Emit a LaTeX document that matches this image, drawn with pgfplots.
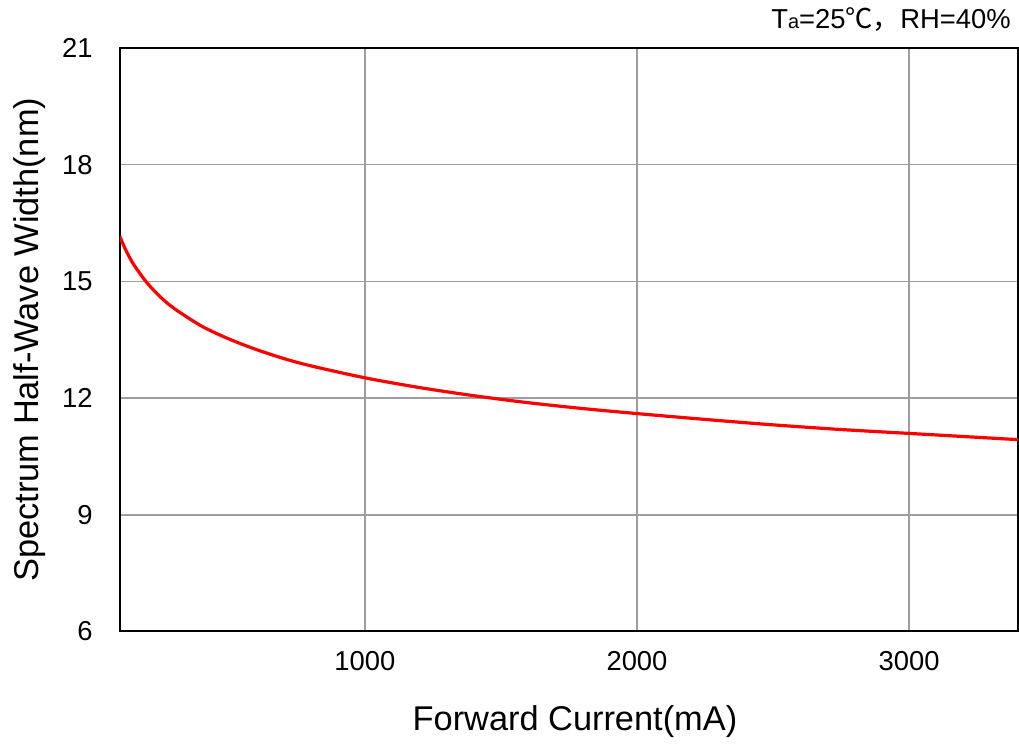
\documentclass[border=0pt]{standalone}
\usepackage{fontspec}
\setmainfont{Liberation Sans}
\newfontfamily\cjk{Noto Sans CJK SC}
\usepackage{pgfplots}
\pgfplotsset{compat=1.18}
\begin{document}
\begin{tikzpicture}
\begin{axis}[
  at={(0,0)}, anchor=south west,
  scale only axis,
  width=449.5pt, height=292pt,
  xmin=100, xmax=3400, ymin=6, ymax=21,
  xtick={1000,2000,3000},
  ytick={6,9,12,15,18,21},
  grid=major,
  major grid style={color=black!38, line width=0.8pt},
  axis line style={line width=1pt, black},
  major tick length=0pt,
  /pgf/number format/assume math mode=true,
  /pgf/number format/1000 sep={},
  tick label style={font=\fontsize{13.7}{16}\selectfont},
  xticklabel style={anchor=center, yshift=-15pt},
  yticklabel style={anchor=east, inner sep=0pt, xshift=-13.5pt},
  xlabel={Forward Current(mA)},
  ylabel={Spectrum Half-Wave Width(nm)},
  label style={font=\fontsize{17.2}{20}\selectfont},
  xlabel style={at={(axis description cs:0.5067,-0.154)}, anchor=center},
  ylabel style={at={(axis description cs:-0.1001,0.5)}, anchor=center, rotate=0},
]
\addplot[color=red, line width=1.6pt, smooth] coordinates {
(100,16.15) (120,15.83) (150,15.44) (200,14.96) (250,14.59) (300,14.30)
(400,13.85) (500,13.52) (600,13.25) (700,13.02) (800,12.83) (1000,12.52)
(1200,12.27) (1400,12.06) (1600,11.88) (1800,11.73) (2000,11.60)
(2250,11.45) (2500,11.31) (2750,11.19) (3000,11.09) (3200,11.01) (3400,10.93)
};
\end{axis}
\node[anchor=east, inner sep=0pt, font=\fontsize{13.7}{16}\selectfont] at (446pt,306pt)
  {T{\fontsize{10}{12}\selectfont a}=25{\cjk ℃，}RH=40\%};
\pgfresetboundingbox
\path[use as bounding box] (-60pt,-57pt) rectangle (450pt,316pt);
\end{tikzpicture}
\end{document}
